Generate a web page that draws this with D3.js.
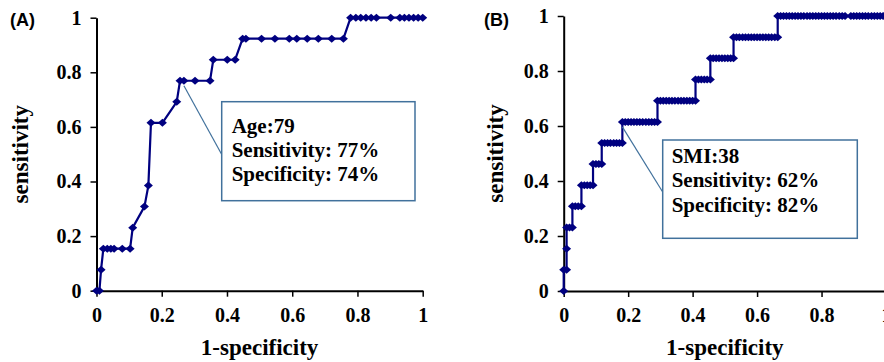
<!DOCTYPE html>
<html lang="en">
<head>
<meta charset="UTF-8">
<title>ROC curves: Age and SMI</title>
<script src="https://d3js.org/d3.v7.min.js"></script>
<style>
  body { margin: 0; background: #fff; }
  svg { display: block; }
  .tick text, .lab, .note {
    font-family: "Liberation Serif", "Times New Roman", serif;
    font-weight: bold;
    fill: #000;
  }
  .tick text { font-size: 20px; }
  .lab { font-size: 23px; }
  .note { font-size: 21px; }
  .panel-id { font-family: "Liberation Sans", Arial, sans-serif; font-weight: bold; font-size: 18px; }
</style>
</head>
<body>
<svg id="chart" width="884" height="362"></svg>
<script>
// tick values and labels (same on both axes)
const tickValues = [0, 0.2, 0.4, 0.6, 0.8, 1];
const tickLabels = ["0", "0.2", "0.4", "0.6", "0.8", "1"];

// (A) Age ROC curve: 1-specificity / sensitivity
const ageFpr = [0, 0.009, 0.014, 0.021, 0.033, 0.044, 0.054, 0.079, 0.103, 0.111,
  0.147, 0.159, 0.167, 0.202, 0.246, 0.256, 0.268, 0.302, 0.348, 0.358,
  0.401, 0.425, 0.448, 0.458, 0.506, 0.547, 0.591, 0.614, 0.646, 0.680,
  0.721, 0.757, 0.779, 0.795, 0.810, 0.826, 0.842, 0.858, 0.902, 0.930,
  0.944, 0.958, 0.972, 0.986, 1.0];
const ageTpr = [0, 0, 0.077, 0.154, 0.154, 0.154, 0.154, 0.154, 0.154, 0.231,
  0.308, 0.385, 0.615, 0.615, 0.692, 0.769, 0.769, 0.769, 0.769, 0.846,
  0.846, 0.846, 0.923, 0.923, 0.923, 0.923, 0.923, 0.923, 0.923, 0.923,
  0.923, 0.923, 1, 1, 1, 1, 1, 1, 1, 1,
  1, 1, 1, 1, 1];

// (B) SMI ROC curve: one sensitivity level per step, with its 1-specificity points
const smiLevels = [0, 0.077, 0.154, 0.231, 0.308, 0.385, 0.462, 0.538, 0.615, 0.692, 0.769, 0.846, 0.923, 1];
const smiStepFpr = [
  [0],
  [0, 0.009],
  [0.009],
  [0.009, 0.018, 0.027],
  [0.027, 0.036, 0.045, 0.055],
  [0.055, 0.064, 0.073, 0.082, 0.091],
  [0.091, 0.100, 0.109, 0.118],
  [0.118, 0.127, 0.136, 0.145, 0.155, 0.164, 0.173, 0.182],
  [0.182, 0.191, 0.200, 0.209, 0.218, 0.227, 0.236, 0.245, 0.255, 0.264, 0.273, 0.282, 0.291],
  [0.291, 0.300, 0.309, 0.318, 0.327, 0.336, 0.345, 0.355, 0.364, 0.373, 0.382, 0.391, 0.400, 0.409],
  [0.409, 0.418, 0.427, 0.436, 0.445, 0.455],
  [0.455, 0.464, 0.473, 0.482, 0.491, 0.500, 0.509, 0.518, 0.527],
  [0.527, 0.536, 0.545, 0.555, 0.564, 0.573, 0.582, 0.591, 0.600, 0.609, 0.618, 0.627, 0.636, 0.645, 0.655, 0.664],
  [0.664, 0.673, 0.682, 0.691, 0.700, 0.709, 0.718, 0.727, 0.736, 0.745, 0.755, 0.764, 0.773, 0.782,
   0.791, 0.800, 0.809, 0.818, 0.827, 0.836, 0.845, 0.855, 0.864, 0.873, 0.891, 0.900, 0.909, 0.918,
   0.927, 0.936, 0.945, 0.955, 0.964, 0.973, 0.982, 0.991, 1]
];

const ageNote = ["Age:79", "Sensitivity: 77%", "Specificity: 74%"];
const smiNote = ["SMI:38", "Sensitivity: 62%", "Specificity: 82%"];

const ageData = ageFpr.map((x, i) => ({ x: x, y: ageTpr[i] }));
const smiData = smiStepFpr.flatMap((xs, i) => xs.map(x => ({ x: x, y: smiLevels[i] })));

const navy = "#000080";
const noteBlue = "#41719c";
const svg = d3.select("#chart");

const panels = [
  { id: "(A)", idX: 10, data: ageData, xr: [96.5, 422.7], yr: [290.7, 17.7], ylabX: 28,
    note: ageNote, box: [221.7, 101.7, 193.3, 99], textY: [132.5, 157, 181], textX: 231.7,
    anchor: { x: 0.268, y: 0.769 }, lineEnd: [222, 155] },
  { id: "(B)", idX: 484, data: smiData, xr: [563.7, 886], yr: [291, 16], ylabX: 503,
    note: smiNote, box: [662.7, 140, 194.6, 98.3], textY: [163.3, 187.3, 211.5], textX: 671.7,
    anchor: { x: 0.182, y: 0.615 }, lineEnd: [662.7, 192] }
];

panels.forEach(p => {
  const x = d3.scaleLinear().domain([0, 1]).range(p.xr);
  const y = d3.scaleLinear().domain([0, 1]).range(p.yr);

  const xAxis = svg.append("g")
    .attr("transform", `translate(0,${p.yr[0]})`)
    .call(d3.axisBottom(x).tickValues(tickValues).tickFormat((d, i) => tickLabels[i])
      .tickSizeInner(6).tickSizeOuter(0).tickPadding(11));

  const yAxis = svg.append("g")
    .attr("transform", `translate(${p.xr[0]},0)`)
    .call(d3.axisLeft(y).tickValues(tickValues).tickFormat((d, i) => tickLabels[i])
      .tickSizeInner(6).tickSizeOuter(0).tickPadding(9));

  [xAxis, yAxis].forEach(a => {
    a.select(".domain").attr("stroke", "#000").attr("stroke-width", 2);
    a.selectAll(".tick line").attr("stroke", "#000").attr("stroke-width", 1.5);
    a.attr("font-size", null).attr("font-family", null);
  });

  // curve
  const line = d3.line().x(d => x(d.x)).y(d => y(d.y));
  svg.append("path")
    .datum(p.data)
    .attr("fill", "none")
    .attr("stroke", navy)
    .attr("stroke-width", 2.2)
    .attr("d", line);

  svg.append("g").selectAll("path")
    .data(p.data)
    .join("path")
    .attr("transform", d => `translate(${x(d.x)},${y(d.y)})`)
    .attr("d", "M0,-4L4.5,0L0,4L-4.5,0Z")
    .attr("fill", navy);

  // axis titles
  svg.append("text")
    .attr("class", "lab")
    .attr("x", (p.xr[0] + p.xr[1]) / 2)
    .attr("y", 355)
    .attr("text-anchor", "middle")
    .text("1-specificity");

  svg.append("text")
    .attr("class", "lab")
    .attr("transform", `translate(${p.ylabX},${(p.yr[0] + p.yr[1]) / 2}) rotate(-90)`)
    .attr("text-anchor", "middle")
    .text("sensitivity");

  svg.append("text")
    .attr("class", "panel-id")
    .attr("x", p.idX)
    .attr("y", 26)
    .text(p.id);

  // callout for the chosen cut-off
  svg.append("line")
    .attr("x1", x(p.anchor.x))
    .attr("y1", y(p.anchor.y) + 5)
    .attr("x2", p.lineEnd[0])
    .attr("y2", p.lineEnd[1])
    .attr("stroke", noteBlue)
    .attr("stroke-width", 1.2);

  svg.append("rect")
    .attr("x", p.box[0])
    .attr("y", p.box[1])
    .attr("width", p.box[2])
    .attr("height", p.box[3])
    .attr("fill", "#fff")
    .attr("stroke", noteBlue)
    .attr("stroke-width", 1.5);

  svg.append("g").selectAll("text")
    .data(p.note)
    .join("text")
    .attr("class", "note")
    .attr("x", p.textX)
    .attr("y", (d, i) => p.textY[i])
    .text(d => d);
});
</script>
</body>
</html>
